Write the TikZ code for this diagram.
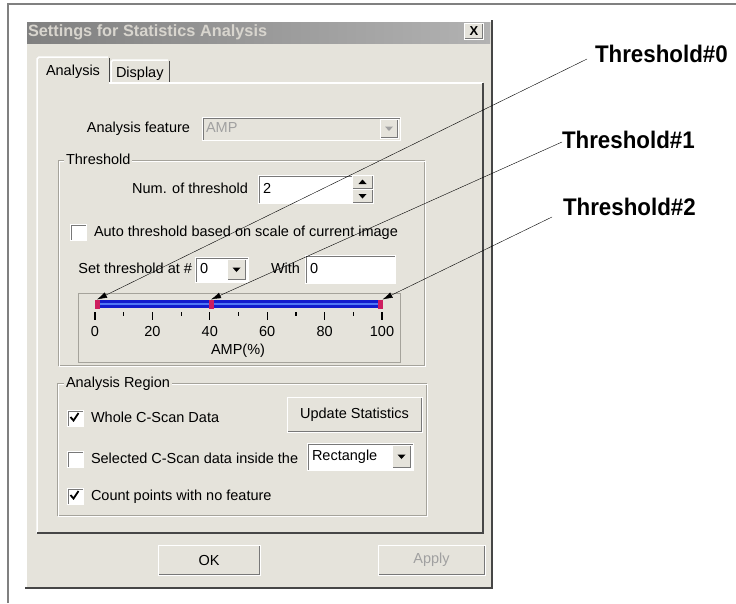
\documentclass[tikz,border=0pt]{standalone}
\usepackage{fontspec}
\setmainfont{Liberation Sans}
\newfontfamily\calloutfont[FakeStretch=0.93]{Liberation Sans}
\usetikzlibrary{positioning,arrows.meta,calc}
\definecolor{dlgbg}{RGB}{229,227,219}
\definecolor{ttlL}{RGB}{128,128,128}
\definecolor{ttlR}{RGB}{178,178,178}
\definecolor{ttltext}{RGB}{216,213,206}
\definecolor{shadegray}{RGB}{120,120,120}
\definecolor{darkedge}{RGB}{70,70,70}
\definecolor{etch}{RGB}{165,163,155}
\definecolor{barblue}{RGB}{18,28,205}
\definecolor{barlight}{RGB}{80,120,245}
\definecolor{markred}{RGB}{205,30,95}
\definecolor{greytext}{RGB}{160,160,160}
\newcommand{\dlgfont}{\fontsize{14.5}{16}\selectfont}

\begin{document}
\begin{tikzpicture}[x=1pt, y=-1pt,
	every node/.style={inner sep=0pt, outer sep=0pt},
	txt/.style={font=\dlgfont, text height=10.5pt, text depth=2.5pt, anchor=west},
	lbl/.style={font=\calloutfont\bfseries\fontsize{24}{26}\selectfont, anchor=base west},
	btn/.style={fill=dlgbg, draw=white, font=\dlgfont,
		path picture={\draw[shadegray, line width=3pt] (path picture bounding box.south west) -- (path picture bounding box.south east) -- (path picture bounding box.north east);}},
	field/.style={fill=white, draw=white, anchor=north west,
		path picture={\draw[shadegray, line width=3pt] (path picture bounding box.south west) -- (path picture bounding box.north west) -- (path picture bounding box.north east);}},
	chk/.style={field, minimum size=16pt},
	downbtn/.style={fill=dlgbg, draw=white, anchor=north east,
		path picture={\draw[shadegray, line width=3pt] (path picture bounding box.south west) -- (path picture bounding box.south east) -- (path picture bounding box.north east);
			\fill[#1] ([xshift=-4pt,yshift=2pt]path picture bounding box.center) -- ++(8pt,0) -- ++(-4pt,-4.5pt) -- cycle;}},
	downbtn/.default=black,
	upbtn/.style={fill=dlgbg, draw=white, anchor=north west,
		path picture={\draw[shadegray, line width=3pt] (path picture bounding box.south west) -- (path picture bounding box.south east) -- (path picture bounding box.north east);
			\fill[black] ([xshift=-4pt,yshift=-2pt]path picture bounding box.center) -- ++(8pt,0) -- ++(-4pt,4.5pt) -- cycle;}},
	thmark/.style={fill=markred, minimum width=5pt, minimum height=9pt},
	>={Latex[length=10pt,width=6pt]}]
	\useasboundingbox (0,0) rectangle (736,603);
	% frame round the screenshot
	\draw[gray, line width=1.2pt] (8,603) -- (8,4) -- (736,4);

	% dialog window
	\fill[dlgbg] (25,20) rectangle (492,588);
	\draw[white, line width=1.5pt] (26,588) -- (26,21) -- (491,21);
	\draw[darkedge, line width=1.5pt] (25,588) -- (492,588) -- (492,20);
	\shade[left color=ttlL, right color=ttlR] (27,22) rectangle (490,43);
	\node[font=\bfseries\fontsize{16.3}{18}\selectfont, text=ttltext, anchor=west] (title) at (28,32) {Settings for Statistics Analysis};
	\node[btn, minimum width=19pt, minimum height=16pt, font=\bfseries\fontsize{13}{14}\selectfont] (closebtn) at (474,31) {X};

	% tabs
	\draw[white, line width=1.5pt] (37,533) -- (37,59) -- (39,57) -- (108,57);
	\draw[darkedge] (109,58) -- (109,83);
	\node[txt] (tabA) at (46,71) {Analysis};
	\draw[white, line width=1.5pt] (111,83) -- (111,62) -- (113,60) -- (168,60);
	\draw[darkedge] (169,61) -- (169,83);
	\node[txt] (tabD) at (116,73) {Display};
	\draw[white, line width=1.5pt] (109,83) -- (483,83);
	\draw[darkedge, line width=1.5pt] (483,83) -- (483,533) -- (37,533);

	% analysis feature
	\node[field, fill=dlgbg, minimum width=198pt, minimum height=23pt] (featbox) at (202,117) {};
	\node[downbtn=greytext, minimum width=18pt, minimum height=19pt] (featdrop) at ([xshift=-2pt,yshift=-2pt]featbox.north east) {};
	\node[txt, text=greytext, right=4pt of featbox.west] (featval) {AMP};
	\node[txt, left=12pt of featbox] (featlbl) {Analysis feature};

	% threshold group
	\draw[etch] (58,160) rectangle (424,365);
	\draw[white] (59,161) rectangle (425,366);
	\node[txt, fill=dlgbg, inner xsep=2pt] (thrgrp) at (64,160) {Threshold};
	\node[field, minimum width=94pt, minimum height=28pt] (numbox) at (258,175) {};
	\node[txt, right=5pt of numbox.west] (numval) {2};
	\node[txt, left=10pt of numbox] (numlbl) {Num. of threshold};
	\node[upbtn, minimum width=21pt, minimum height=14pt] (spinup) at (numbox.north east) {};
	\node[downbtn, anchor=north west, minimum width=21pt, minimum height=14pt] (spindn) at (spinup.south west) {};
	\node[chk] (autochk) at (70,224) {};
	\node[txt, right=8pt of autochk] (autolbl) {Auto threshold based on scale of current image};
	\node[field, minimum width=53pt, minimum height=25pt] (setbox) at (195,257) {};
	\node[downbtn, minimum width=19pt, minimum height=21pt] (setdrop) at ([xshift=-2pt,yshift=-2pt]setbox.north east) {};
	\node[txt, right=5pt of setbox.west] (setval) {0};
	\node[txt, left=3pt of setbox] (setlbl) {Set threshold at \#};
	\node[field, minimum width=90pt, minimum height=28pt] (withbox) at (305,255) {};
	\node[txt, right=5pt of withbox.west] (withval) {0};
	\node[txt, left=5pt of withbox] (withlbl) {With};

	% slider
	\node[draw=etch, fill=dlgbg, anchor=north west, minimum width=322pt, minimum height=69pt] (slider) at (78,293) {};
	\fill[barblue] (95,300) rectangle (382,308);
	\draw[barlight, line width=1.5pt] (96,304) -- (381,304);
	\node[thmark] (m0) at (97,304) {};
	\node[thmark] (m1) at (211,304) {};
	\node[thmark] (m2) at (380,304) {};
	\foreach \v in {0,20,...,100} {
		\draw[line width=1.2pt] (95+2.87*\v,312) -- ++(0,8);
		\node[txt, anchor=center] at (95+2.87*\v,332) {\v};
	}
	\foreach \v in {10,30,...,90}
		\draw[line width=1.2pt] (95+2.87*\v,312) -- ++(0,4);
	\node[txt, anchor=center] (ampunit) at (238,350) {AMP(\%)};

	% analysis region group
	\draw[etch] (57,383) rectangle (426,515);
	\draw[white] (58,384) rectangle (427,516);
	\node[txt, fill=dlgbg, inner xsep=2pt] (regiongrp) at (64,383) {Analysis Region};
	\node[chk] (wholechk) at (67,410) {};
	\node[txt, right=8pt of wholechk] (wholelbl) {Whole C-Scan Data};
	\node[btn, anchor=north west, minimum width=135pt, minimum height=35pt] (updbtn) at (287,397) {Update Statistics};
	\node[chk] (selchk) at (67,451) {};
	\node[txt, right=8pt of selchk] (sellbl) {Selected C-Scan data inside the};
	\node[field, minimum width=106pt, minimum height=27pt] (shapebox) at (307,443) {};
	\node[downbtn, minimum width=19pt, minimum height=23pt] (shapedrop) at ([xshift=-2pt,yshift=-2pt]shapebox.north east) {};
	\node[txt, right=5pt of shapebox.west] (shapeval) {Rectangle};
	\node[chk] (countchk) at (67,488) {};
	\node[txt, right=8pt of countchk] (countlbl) {Count points with no feature};
	\foreach \c in {wholechk,countchk}
		\draw[line width=1.8pt] ([xshift=-4.5pt,yshift=1pt]\c.center) -- ++(3pt,-3.5pt) -- ++(5pt,7.5pt);

	% bottom buttons
	\node[btn, anchor=north west, minimum width=102pt, minimum height=30pt] (okbtn) at (158,545) {OK};
	\node[btn, anchor=north west, minimum width=107pt, minimum height=30pt, text=greytext] (applybtn) at (378,545) {Apply};

	% threshold callouts
	\node[lbl] (thr0) at (595,62) {Threshold\#0};
	\node[lbl] (thr1) at (562,148) {Threshold\#1};
	\node[lbl] (thr2) at (563,215) {Threshold\#2};
	\draw[->] ([xshift=-8pt,yshift=3pt]thr0.base west) -- (m0.north);
	\draw[->] ([yshift=6pt]thr1.base west) -- (m1.north);
	\draw[->] ([xshift=-11pt,yshift=-2pt]thr2.base west) -- (m2.north east);
\end{tikzpicture}
\end{document}
